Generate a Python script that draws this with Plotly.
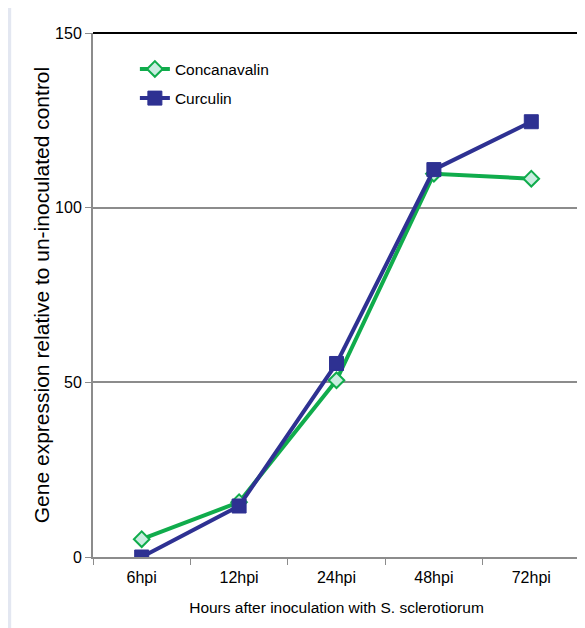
import plotly.graph_objects as go

categories = ["6hpi", "12hpi", "24hpi", "48hpi", "72hpi"]
concanavalin = [5.1, 15.7, 50.6, 109.7, 108.3]
curculin = [0.0, 14.6, 55.4, 110.9, 124.6]
y_ticks = [0, 50, 100, 150]

FONT = "Liberation Sans, Arial, sans-serif"

fig = go.Figure()
fig.add_trace(go.Scatter(
    x=categories, y=concanavalin, name="Concanavalin", mode="lines+markers",
    legendgroup="a",
    line=dict(color="#10ac4c", width=4),
    marker=dict(symbol="diamond", size=12, color="#c9ede0",
                line=dict(color="#10ac4c", width=2)),
))
fig.add_trace(go.Scatter(
    x=categories, y=curculin, name="Curculin", mode="lines+markers",
    legendgroup="b",
    line=dict(color="#2e3192", width=4),
    marker=dict(symbol="square", size=14, color="#2e3192",
                line=dict(color="#2e3192", width=1)),
))

fig.update_layout(
    width=577, height=620,
    margin=dict(l=85, r=5, t=25, b=71),
    paper_bgcolor="white", plot_bgcolor="white",
    font=dict(family=FONT, size=15, color="black"),
    showlegend=True,
    legend=dict(x=0.086, y=0.963, xanchor="left", yanchor="top",
                bgcolor="rgba(0,0,0,0)", font=dict(size=15.5),
                itemwidth=30, tracegroupgap=6),
    shapes=[
        dict(type="rect", xref="paper", yref="paper", x0=-0.18, x1=-0.168,
             y0=-0.2, y1=1.1, fillcolor="#e3e7f1", line=dict(width=0), layer="below"),
        dict(type="line", xref="paper", yref="paper", x0=0, x1=1, y0=1, y1=1,
             line=dict(color="black", width=2)),
        dict(type="line", xref="paper", yref="paper", x0=1, x1=1, y0=0, y1=1,
             line=dict(color="black", width=2)),
    ],
)
fig.update_xaxes(
    type="category", categoryorder="array", categoryarray=categories,
    range=[-0.5, len(categories) - 0.5],
    showline=True, linecolor="#8c8c8c", linewidth=2,
    ticks="outside", tickson="boundaries", ticklen=6, tickcolor="#8c8c8c",
    showgrid=False, tickfont=dict(size=16), ticklabelstandoff=5,
    title=dict(text="Hours after inoculation with S. sclerotiorum", standoff=17,
               font=dict(size=15.5)),
)
fig.update_yaxes(
    range=[0, 150], tickvals=y_ticks, ticktext=[str(v) for v in y_ticks],
    showline=True, linecolor="#8c8c8c", linewidth=2,
    ticks="outside", ticklen=6, tickcolor="#8c8c8c",
    showgrid=True, gridcolor="#8c8c8c", gridwidth=1.5, zeroline=False,
    tickfont=dict(size=16),
    title=dict(text="Gene expression relative to un-inoculated control", standoff=0,
               font=dict(size=21)),
)

fig.write_html("out.html")
